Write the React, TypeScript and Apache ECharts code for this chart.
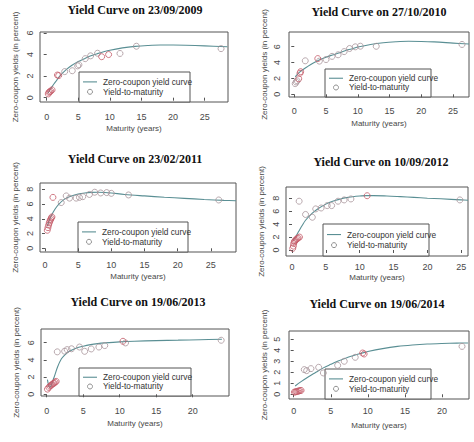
import React, { useEffect, useRef } from "react";
import * as echarts from "echarts";

// ---- Yield curve on 23/09/2009 ----
const curveMat2009 = [0.2, 0.5, 1, 1.5, 2, 3, 4, 5, 6, 7, 8, 10, 12, 14, 16, 18, 20, 22, 25, 28.6];
const curveYld2009 = [0.4, 0.72, 1.15, 1.55, 1.95, 2.55, 3.0, 3.35, 3.62, 3.88, 4.08, 4.4, 4.62, 4.76, 4.84, 4.88, 4.88, 4.86, 4.8, 4.72];
const ytmRed2009 = [[0.25, 0.35], [0.35, 0.5], [0.5, 0.55], [0.65, 0.62], [0.85, 0.72], [1.7, 2.1], [1.9, 2.05], [8.7, 3.8], [9.8, 4.0]];
const ytmGrey2009 = [[2.85, 2.42], [4.05, 2.5], [4.9, 2.95], [5.1, 3.05], [6.1, 3.62], [6.95, 3.88], [8.05, 4.12], [11.6, 4.1], [14.2, 4.77], [27.6, 4.55]];

// ---- Yield curve on 27/10/2010 ----
const curveMat2010 = [0.15, 0.5, 1, 2, 3, 4, 5, 6, 7, 8, 9, 10, 12, 14, 16, 18, 20, 22, 25, 27.5];
const curveYld2010 = [2.2, 2.5, 2.9, 3.45, 3.95, 4.35, 4.68, 4.95, 5.2, 5.5, 5.72, 5.95, 6.28, 6.5, 6.62, 6.68, 6.66, 6.6, 6.45, 6.33];
const ytmRed2010 = [[0.7, 1.95], [0.9, 2.65], [1.0, 2.85], [3.7, 4.5]];
const ytmGrey2010 = [[0.15, 1.35], [0.3, 1.55], [0.45, 1.7], [1.73, 4.22], [3.95, 4.18], [5.0, 4.38], [5.95, 4.78], [6.9, 4.98], [7.85, 5.38], [8.7, 5.77], [9.6, 5.98], [10.4, 6.06], [12.9, 6.05], [26.4, 6.28]];

// ---- Yield curve on 23/02/2011 ----
const curveMat2011 = [0.35, 0.6, 1, 1.5, 2, 3, 4, 5, 6, 7, 8, 9, 10, 12, 15, 18, 21, 24, 27, 28.8];
const curveYld2011 = [3.0, 3.7, 4.5, 5.3, 5.9, 6.7, 7.1, 7.35, 7.5, 7.58, 7.6, 7.57, 7.5, 7.3, 7.1, 6.92, 6.77, 6.62, 6.5, 6.45];
const ytmRed2011 = [[0.35, 2.45], [0.45, 2.8], [0.55, 3.15], [0.65, 3.45], [0.75, 3.7], [0.85, 3.9], [0.95, 4.1], [1.05, 4.25], [1.2, 6.9]];
const ytmGrey2011 = [[2.45, 6.2], [3.2, 7.1], [3.7, 6.8], [4.7, 6.8], [5.2, 6.9], [5.7, 7.0], [6.7, 7.3], [7.5, 7.6], [8.4, 7.5], [9.3, 7.55], [10.0, 7.45], [12.6, 7.23], [26.2, 6.55]];

// ---- Yield curve on 10/09/2012 ----
const curveMat2012 = [0.15, 0.5, 1, 1.5, 2, 3, 4, 5, 6, 7, 8, 9, 10, 11, 12, 14, 16, 18, 20, 22, 25, 26];
const curveYld2012 = [1.5, 2.0, 2.9, 3.8, 4.6, 5.7, 6.5, 7.1, 7.55, 7.85, 8.1, 8.25, 8.35, 8.42, 8.42, 8.36, 8.26, 8.15, 8.02, 7.92, 7.75, 7.7];
const ytmRed2012 = [[0.1, 0.25], [0.2, 0.6], [0.25, 1.0], [0.35, 1.3], [0.45, 1.45], [0.6, 1.6], [0.75, 1.75], [0.9, 1.85], [1.1, 2.0], [11.1, 8.4]];
const ytmGrey2012 = [[1.05, 7.55], [2.0, 5.5], [3.0, 5.07], [3.5, 6.36], [4.3, 6.5], [5.2, 6.87], [5.85, 6.87], [6.8, 7.55], [7.7, 7.75], [8.7, 7.9], [24.8, 7.75]];

// ---- Yield curve on 19/06/2013 ----
const curveMat2013 = [0.1, 0.25, 0.4, 0.6, 0.8, 1, 1.5, 2, 2.5, 3, 4, 5, 6, 7, 8, 10, 12, 15, 18, 21, 24];
const curveYld2013 = [1.7, 1.1, 0.8, 1.0, 1.5, 1.95, 3.2, 4.1, 4.6, 4.95, 5.35, 5.6, 5.78, 5.9, 5.98, 6.1, 6.18, 6.25, 6.3, 6.35, 6.4];
const ytmRed2013 = [[0.1, 0.6], [0.3, 0.8], [0.45, 0.95], [0.6, 1.05], [0.75, 1.15], [0.9, 1.25], [1.0, 1.3], [1.15, 1.4], [1.3, 1.5], [10.45, 6.17]];
const ytmGrey2013 = [[1.45, 4.94], [2.46, 5.02], [2.8, 5.2], [3.4, 5.3], [4.5, 5.5], [5.2, 5.0], [6.1, 5.28], [7.15, 5.5], [7.95, 5.67], [10.8, 5.98], [23.9, 6.29]];

// ---- Yield curve on 19/06/2014 ----
const curveMat2014 = [0.2, 1, 2, 3, 4, 5, 6, 7, 8, 9, 10, 12, 14, 16, 18, 20, 22, 23.5];
const curveYld2014 = [0.75, 1.15, 1.6, 2.0, 2.4, 2.72, 3.02, 3.28, 3.5, 3.7, 3.88, 4.15, 4.35, 4.48, 4.57, 4.62, 4.65, 4.66];
const ytmRed2014 = [[0.1, 0.2], [0.25, 0.22], [0.4, 0.25], [0.55, 0.27], [0.7, 0.3], [0.85, 0.33], [1.0, 0.35], [9.3, 3.75], [9.5, 3.66]];
const ytmGrey2014 = [[1.43, 2.24], [1.75, 2.15], [2.33, 2.33], [3.37, 2.45], [4.0, 1.94], [5.93, 2.63], [6.82, 3.0], [8.3, 3.36], [22.7, 4.35]];

// Tick labels
const xTicks25 = [0, 5, 10, 15, 20, 25];
const xTicks20 = [0, 5, 10, 15, 20];
const yTicks6 = [0, 2, 4, 6];
const yTicks8 = [0, 2, 4, 6, 8];
const yTicks5 = [0, 1, 2, 3, 4, 5];

const titles = [
  "Yield Curve on 23/09/2009",
  "Yield Curve on 27/10/2010",
  "Yield Curve on 23/02/2011",
  "Yield Curve on 10/09/2012",
  "Yield Curve on 19/06/2013",
  "Yield Curve on 19/06/2014",
];

const LINE_NAME = "Zero-coupon yield curve";
const POINT_NAME = "Yield-to-maturity";
const Y_NAME = "Zero-coupon yields (in percent)";
const X_NAME = "Maturity (years)";

const panelData = [
  { mat: curveMat2009, yld: curveYld2009, red: ytmRed2009, grey: ytmGrey2009, xt: xTicks25, yt: yTicks6 },
  { mat: curveMat2010, yld: curveYld2010, red: ytmRed2010, grey: ytmGrey2010, xt: xTicks25, yt: yTicks6 },
  { mat: curveMat2011, yld: curveYld2011, red: ytmRed2011, grey: ytmGrey2011, xt: xTicks25, yt: yTicks8 },
  { mat: curveMat2012, yld: curveYld2012, red: ytmRed2012, grey: ytmGrey2012, xt: xTicks25, yt: yTicks8 },
  { mat: curveMat2013, yld: curveYld2013, red: ytmRed2013, grey: ytmGrey2013, xt: xTicks20, yt: yTicks6 },
  { mat: curveMat2014, yld: curveYld2014, red: ytmRed2014, grey: ytmGrey2014, xt: xTicks20, yt: yTicks5 },
];

// Panel geometry: plot box, axis ranges, title and legend placement
const layout = [
  { left: 40, top: 32, w: 188, h: 70, xmin: -1.06, xmax: 28.7, ymin: -0.4, ymax: 6.09, tx: 135, ty: 10, lgLeft: 79, lgW: 111, lgH: 30, xm: 10, ym: 6, xg: 22, yg: 21 },
  { left: 289, top: 32, w: 180, h: 65, xmin: -0.83, xmax: 27.5, ymin: -0.34, ymax: 7.85, tx: 379, ty: 12, lgLeft: 325, lgW: 106, lgH: 28, xm: 9, ym: 8, xg: 22, yg: 21 },
  { left: 40, top: 183, w: 196, h: 69, xmin: -0.75, xmax: 28.8, ymin: -0.5, ymax: 8.85, tx: 135, ty: 159, lgLeft: 78, lgW: 110, lgH: 30, xm: 8, ym: 6, xg: 20, yg: 21 },
  { left: 286, top: 187, w: 182, h: 69, xmin: -0.89, xmax: 26.0, ymin: -0.93, ymax: 9.75, tx: 381, ty: 162, lgLeft: 323, lgW: 106, lgH: 32, xm: 6, ym: 6, xg: 17, yg: 21 },
  { left: 41, top: 329, w: 188, h: 67, xmin: -0.78, xmax: 24.97, ymin: -0.2, ymax: 7.6, tx: 138, ty: 302, lgLeft: 79, lgW: 112, lgH: 28, xm: 10, ym: 6, xg: 23, yg: 21 },
  { left: 289, top: 331, w: 180, h: 68, xmin: -0.63, xmax: 23.64, ymin: -0.43, ymax: 5.75, tx: 377, ty: 304, lgLeft: 325, lgW: 106, lgH: 30, xm: 7, ym: 8, xg: 22, yg: 21 },
];

const CURVE_COLOR = "#5a8f94";
const RED = "#c45a68";
const GREY = "#a8949a";
const AXIS_COLOR = "#555";
const TEXT_COLOR = "#484848";
const SANS = "Liberation Sans, Arial, sans-serif";
const SERIF = "Liberation Serif, Times New Roman, serif";

function buildOption() {
  const grid: any[] = [];
  const xAxis: any[] = [];
  const yAxis: any[] = [];
  const series: any[] = [];
  const graphic: any[] = [];

  panelData.forEach((d, i) => {
    const L = layout[i];
    grid.push({
      left: L.left,
      top: L.top,
      width: L.w,
      height: L.h,
      show: true,
      borderColor: AXIS_COLOR,
      borderWidth: 1,
      backgroundColor: "transparent",
    });
    xAxis.push({
      type: "value",
      gridIndex: i,
      min: L.xmin,
      max: L.xmax,
      axisLine: { show: false },
      splitLine: { show: false },
      axisTick: { show: true, customValues: d.xt, length: 3, lineStyle: { color: AXIS_COLOR } },
      axisLabel: { customValues: d.xt, fontSize: 9, color: TEXT_COLOR, margin: L.xm, fontFamily: SANS },
      name: X_NAME,
      nameLocation: "middle",
      nameGap: L.xg,
      nameTextStyle: { fontSize: 8, color: TEXT_COLOR, fontFamily: SANS },
    });
    yAxis.push({
      type: "value",
      gridIndex: i,
      min: L.ymin,
      max: L.ymax,
      axisLine: { show: false },
      splitLine: { show: false },
      axisTick: { show: true, customValues: d.yt, length: 3, lineStyle: { color: AXIS_COLOR } },
      axisLabel: { customValues: d.yt, fontSize: 9, color: TEXT_COLOR, margin: L.ym, rotate: 90, fontFamily: SANS },
      name: Y_NAME,
      nameLocation: "middle",
      nameRotate: 90,
      nameGap: L.yg,
      nameTextStyle: { fontSize: 8, color: TEXT_COLOR, fontFamily: SANS },
    });
    series.push({
      type: "line",
      name: LINE_NAME,
      xAxisIndex: i,
      yAxisIndex: i,
      data: d.mat.map((m, k) => [m, d.yld[k]]),
      showSymbol: false,
      smooth: 0.35,
      lineStyle: { color: CURVE_COLOR, width: 1.1 },
      itemStyle: { color: CURVE_COLOR },
      z: 2,
    });
    series.push({
      type: "scatter",
      name: POINT_NAME,
      xAxisIndex: i,
      yAxisIndex: i,
      data: d.grey,
      symbol: "circle",
      symbolSize: 6,
      itemStyle: { color: "transparent", borderColor: GREY, borderWidth: 1 },
      z: 3,
    });
    series.push({
      type: "scatter",
      name: POINT_NAME,
      xAxisIndex: i,
      yAxisIndex: i,
      data: d.red,
      symbol: "circle",
      symbolSize: 6,
      itemStyle: { color: "transparent", borderColor: RED, borderWidth: 1 },
      z: 4,
    });

    // title
    graphic.push({
      type: "text",
      x: L.tx,
      y: L.ty,
      style: {
        text: titles[i],
        fontSize: 12,
        fontWeight: "bold",
        fontFamily: SERIF,
        fill: "#111",
        align: "center",
        verticalAlign: "middle",
        textAlign: "center",
        textVerticalAlign: "middle",
      },
    });

    // legend box
    const bottom = L.top + L.h;
    const lgTop = bottom - L.lgH;
    const row1 = lgTop + L.lgH * 0.33;
    const row2 = lgTop + L.lgH * 0.66;
    graphic.push({
      type: "group",
      z: 100,
      children: [
        {
          type: "rect",
          shape: { x: L.lgLeft, y: lgTop, width: L.lgW, height: L.lgH },
          style: { fill: "#fff", stroke: AXIS_COLOR, lineWidth: 1 },
        },
        {
          type: "line",
          shape: { x1: L.lgLeft + 4, y1: row1, x2: L.lgLeft + 18, y2: row1 },
          style: { stroke: CURVE_COLOR, lineWidth: 1.1 },
        },
        {
          type: "circle",
          shape: { cx: L.lgLeft + 11, cy: row2, r: 2.5 },
          style: { fill: "none", stroke: "#909090", lineWidth: 1 },
        },
        {
          type: "text",
          x: L.lgLeft + 24,
          y: row1,
          style: { text: LINE_NAME, fontSize: 8.3, fontFamily: SANS, fill: "#333", verticalAlign: "middle", textVerticalAlign: "middle" },
        },
        {
          type: "text",
          x: L.lgLeft + 24,
          y: row2,
          style: { text: POINT_NAME, fontSize: 8.3, fontFamily: SANS, fill: "#333", verticalAlign: "middle", textVerticalAlign: "middle" },
        },
      ],
    });
  });

  return {
    animation: false,
    backgroundColor: "#fff",
    grid,
    xAxis,
    yAxis,
    series,
    graphic,
  };
}

export default function App() {
  const ref = useRef<HTMLDivElement>(null);
  useEffect(() => {
    if (!ref.current) return;
    const chart = echarts.init(ref.current, null, { renderer: "svg" });
    chart.setOption(buildOption());
    return () => chart.dispose();
  }, []);
  return (
    <div
      ref={ref}
      style={{ position: "fixed", left: 0, top: 0, width: 474, height: 442, background: "#fff" }}
    />
  );
}
